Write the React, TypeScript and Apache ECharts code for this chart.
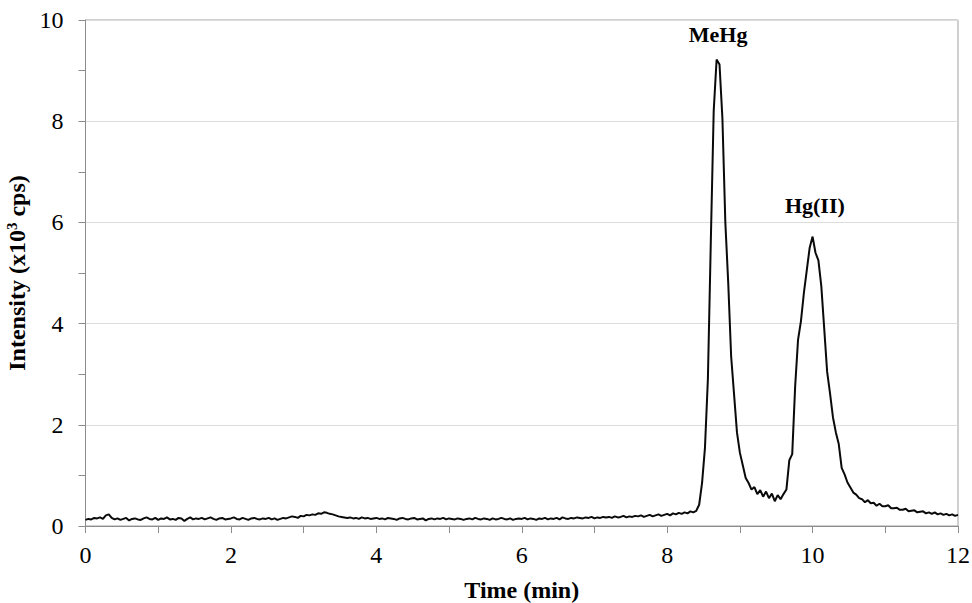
import React, { useEffect, useRef } from "react";
import * as echarts from "echarts";

// Sampling grid of the chromatogram (minutes)
const T_START = 0;
const T_STEP = 0.04;

// Intensity (x10^3 cps), one value per 0.04 min from 0 to 12
const intensity: number[] = [
  0.12, 0.14, 0.13, 0.16, 0.15, 0.17, 0.14, 0.21, 0.23, 0.16,
  0.13, 0.15, 0.12, 0.14, 0.16, 0.11, 0.14, 0.15, 0.13, 0.12,
  0.15, 0.17, 0.14, 0.13, 0.16, 0.12, 0.15, 0.14, 0.17, 0.13,
  0.14, 0.12, 0.16, 0.15, 0.10, 0.14, 0.17, 0.13, 0.15, 0.14,
  0.16, 0.13, 0.15, 0.17, 0.14, 0.12, 0.15, 0.16, 0.13, 0.14,
  0.15, 0.17, 0.14, 0.13, 0.16, 0.14, 0.12, 0.15, 0.16, 0.14,
  0.13, 0.15, 0.14, 0.16, 0.13, 0.15, 0.12, 0.14, 0.16, 0.15,
  0.17, 0.19, 0.18, 0.16, 0.20, 0.19, 0.22, 0.21, 0.23, 0.22,
  0.25, 0.24, 0.27, 0.26, 0.24, 0.23, 0.21, 0.19, 0.18, 0.17,
  0.16, 0.17, 0.15, 0.16, 0.14, 0.17, 0.15, 0.16, 0.14, 0.15,
  0.16, 0.14, 0.15, 0.13, 0.16, 0.15, 0.14, 0.12, 0.15, 0.16,
  0.14, 0.13, 0.15, 0.16, 0.13, 0.14, 0.15, 0.11, 0.14, 0.15,
  0.13, 0.15, 0.14, 0.16, 0.13, 0.15, 0.14, 0.13, 0.15, 0.14,
  0.12, 0.14, 0.15, 0.13, 0.16, 0.14, 0.13, 0.15, 0.14, 0.12,
  0.15, 0.13, 0.14, 0.16, 0.14, 0.13, 0.15, 0.12, 0.14, 0.15,
  0.14, 0.16, 0.13, 0.15, 0.14, 0.12, 0.15, 0.14, 0.16, 0.13,
  0.15, 0.14, 0.16, 0.13, 0.17, 0.15, 0.14, 0.16, 0.15, 0.17,
  0.16, 0.15, 0.17, 0.16, 0.18, 0.15, 0.17, 0.16, 0.18, 0.17,
  0.18, 0.16, 0.19, 0.17, 0.18, 0.20, 0.17, 0.19, 0.18, 0.20,
  0.19, 0.21, 0.18, 0.20, 0.22, 0.19, 0.21, 0.23, 0.20, 0.22,
  0.24, 0.21, 0.25, 0.23, 0.26, 0.24, 0.27, 0.25, 0.29, 0.27,
  0.30, 0.42, 0.85, 1.55, 2.90, 5.60, 8.20, 9.22, 9.12, 8.05,
  6.00, 4.80, 3.35, 2.60, 1.85, 1.45, 1.20, 0.95, 0.85, 0.72,
  0.77, 0.63, 0.71, 0.58, 0.68, 0.55, 0.64, 0.49, 0.61, 0.53,
  0.63, 0.72, 1.30, 1.42, 2.75, 3.68, 4.05, 4.60, 5.05, 5.50,
  5.72, 5.40, 5.25, 4.74, 3.90, 3.05, 2.62, 2.15, 1.85, 1.62,
  1.15, 1.02, 0.86, 0.76, 0.66, 0.62, 0.55, 0.53, 0.47, 0.51,
  0.45, 0.46, 0.40, 0.44, 0.39, 0.39, 0.41, 0.35, 0.35, 0.36,
  0.32, 0.32, 0.34, 0.29, 0.30, 0.31, 0.27, 0.28, 0.29, 0.25,
  0.27, 0.24, 0.27, 0.23, 0.25, 0.22, 0.24, 0.21, 0.23, 0.20, 0.22,
];

// Peak labels: name, retention time, apex intensity
const peakNames = ["MeHg", "Hg(II)"];
const peakTimes = [8.70, 9.99];
const peakValues = [9.23, 5.73];

// Axis ranges
const X_MIN = 0, X_MAX = 12, X_STEP = 2;
const Y_MIN = 0, Y_MAX = 10, Y_STEP = 2;

const FONT = "'Liberation Serif', 'Times New Roman', serif";

export default function App() {
  const ref = useRef<HTMLDivElement>(null);
  useEffect(() => {
    if (!ref.current) return;
    const chart = echarts.init(ref.current, undefined, { renderer: "svg" });
    const data = intensity.map((v, i) => [
      +(T_START + i * T_STEP).toFixed(2),
      v,
    ]);
    const axisGrey = "#8c8c8c";
    chart.setOption({
      animation: false,
      backgroundColor: "#ffffff",
      grid: {
        left: 85.5,
        right: 14,
        top: 20,
        bottom: 77,
        containLabel: false,
        outerBoundsMode: "none",
        show: true,
        borderColor: "#a0a0a0",
        borderWidth: 1,
        backgroundColor: "transparent",
      },
      xAxis: {
        type: "value",
        min: X_MIN,
        max: X_MAX,
        interval: X_STEP,
        name: "Time (min)",
        nameLocation: "middle",
        nameGap: 52,
        nameTextStyle: {
          fontFamily: FONT,
          fontWeight: "bold",
          fontSize: 24,
          color: "#000",
        },
        axisLine: { show: true, lineStyle: { color: axisGrey, width: 1 } },
        axisTick: { show: true, inside: false, length: 7, lineStyle: { color: axisGrey } },
        minorTick: { show: true, splitNumber: 2, length: 7, lineStyle: { color: axisGrey } },
        splitLine: { show: false },
        axisLabel: {
          fontFamily: FONT,
          fontSize: 24,
          color: "#000",
          margin: 17,
        },
      },
      yAxis: {
        type: "value",
        min: Y_MIN,
        max: Y_MAX,
        interval: Y_STEP,
        name: "Intensity (x10{sup|3} cps)",
        nameLocation: "middle",
        nameGap: 48,
        nameRotate: 90,
        nameTextStyle: {
          fontFamily: FONT,
          fontWeight: "bold",
          fontSize: 24,
          color: "#000",
          rich: {
            sup: {
              fontFamily: FONT,
              fontWeight: "bold",
              fontSize: 15,
              color: "#000",
              verticalAlign: "top",
              padding: [0, 0, 9, 0],
            },
          },
        },
        axisLine: { show: true, lineStyle: { color: axisGrey, width: 1 } },
        axisTick: { show: true, inside: false, length: 7, lineStyle: { color: axisGrey } },
        minorTick: { show: true, splitNumber: 2, length: 7, lineStyle: { color: axisGrey } },
        splitLine: { show: true, lineStyle: { color: "#dcdcdc", width: 1 } },
        axisLabel: {
          fontFamily: FONT,
          fontSize: 24,
          color: "#000",
          margin: 22,
        },
      },
      series: [
        {
          type: "line",
          data,
          showSymbol: false,
          symbol: "none",
          lineStyle: { color: "#0a0a0a", width: 2 },
          markPoint: {
            symbol: "circle",
            symbolSize: 0,
            label: {
              show: true,
              position: "inside",
              fontFamily: FONT,
              fontWeight: "bold",
              fontSize: 22,
              color: "#000",
              formatter: (p: any) => p.name,
            },
            data: peakNames.map((n, i) => ({
              name: n,
              coord: [peakTimes[i], peakValues[i]],
              label: { offset: i === 0 ? [0, -24] : [3, -31] },
            })),
          },
        },
      ],
    });
    return () => chart.dispose();
  }, []);
  return <div ref={ref} style={{ width: 972, height: 603, position: "absolute", left: 0, top: 0 }} />;
}
